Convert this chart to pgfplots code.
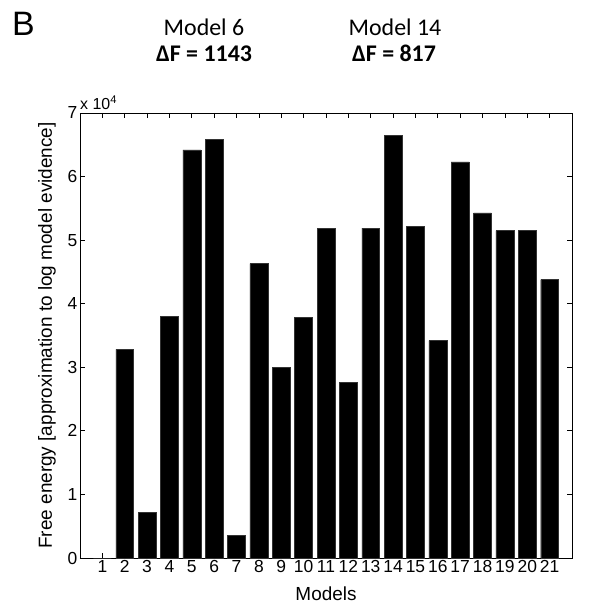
\documentclass[border=0pt]{standalone}
\usepackage{fontspec}
\setmainfont{Liberation Sans}
\newfontfamily\calibri{Carlito}
\usepackage{pgfplots}
\pgfplotsset{compat=1.18}
\begin{document}
\begin{tikzpicture}[x=1bp,y=1bp]
\useasboundingbox (-80,-51) rectangle (523,558);
\begin{axis}[
    at={(0,0)}, anchor=south west,
    scale only axis,
    width=492bp, height=445bp,
    ybar, bar width=0.8,
    xmin=0, xmax=22, ymin=0, ymax=70000,
    xtick={1,...,21},
    ytick={0,10000,...,70000},
    yticklabels={0,1,2,3,4,5,6,7},
    scaled y ticks=false,
    tick align=inside,
    major tick length=5bp,
    axis line style={black, line width=0.8bp},
    tick style={black, line width=0.8bp},
    /pgf/number format/assume math mode=true,
    tick label style={font=\fontsize{17.5}{18}\selectfont},
    xticklabel style={inner sep=2bp},
    yticklabel style={inner sep=2.5bp},
    label style={font=\fontsize{19}{20}\selectfont},
    xlabel={Models},
    ylabel={Free energy [approximation to log model evidence]},
    xlabel style={at={(axis description cs:0.5,0)}, anchor=base, yshift=-42bp},
    ylabel style={at={(axis description cs:-0.067,0.5)}, anchor=center},
    clip=false,
]
\addplot[fill=black, draw=black!80] coordinates {
    (1,0) (2,32800) (3,7200) (4,38000) (5,64200) (6,65800) (7,3600)
    (8,46300) (9,30000) (10,37900) (11,51900) (12,27600) (13,51900)
    (14,66500) (15,52200) (16,34200) (17,62300) (18,54300) (19,51500)
    (20,51500) (21,43800)
};
\node[anchor=base west, inner sep=0pt, font=\fontsize{16}{16}\selectfont]
    at (rel axis cs:0,1) [yshift=3bp] {x 10\textsuperscript{4}};
\end{axis}
\node[anchor=base west, inner sep=0pt, font=\fontsize{34}{34}\selectfont] at (-68,522) {B};
\node[anchor=base, inner sep=0pt, font=\calibri\fontsize{24}{25}\selectfont] at (124,522) {Model 6};
\node[anchor=base, inner sep=0pt, font=\calibri\bfseries\fontsize{24}{25}\selectfont] at (124,496) {ΔF = 1143};
\node[anchor=base, inner sep=0pt, font=\calibri\fontsize{24}{25}\selectfont] at (315,522) {Model 14};
\node[anchor=base, inner sep=0pt, font=\calibri\bfseries\fontsize{24}{25}\selectfont] at (314,496) {ΔF = 817};
\end{tikzpicture}
\end{document}
